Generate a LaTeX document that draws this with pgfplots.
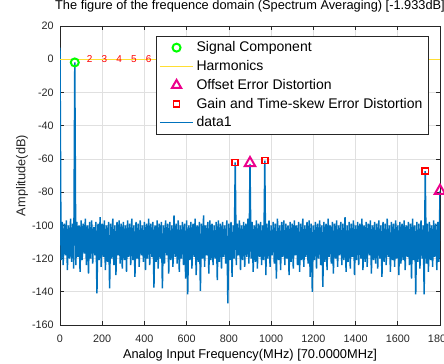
\documentclass[border=0pt]{standalone}
\usepackage{pgfplots}
\pgfplotsset{compat=1.18}
\usepackage{fontspec}
\setmainfont{Liberation Sans}
\usetikzlibrary{calc}
\definecolor{matblue}{rgb}{0,0.447,0.741}
\definecolor{harm}{rgb}{1,0.87,0.2}
\definecolor{axgray}{rgb}{0.15,0.15,0.15}
\definecolor{gridgray}{rgb}{0.88,0.88,0.88}
\begin{document}
\begin{tikzpicture}
\begin{axis}[name=ax, scale only axis, width=285pt, height=224.25pt,
  xmin=0, xmax=1800, ymin=-160, ymax=20,
  xtick={0,200,...,1800}, ytick={-160,-140,...,20},
  grid=major, major grid style={gridgray, line width=0.5pt},
  axis line style={axgray, line width=0.5pt}, tick style={axgray, line width=0.5pt},
  tick align=inside, major tick length=3pt,
  /pgf/number format/assume math mode=true,
  /pgf/number format/1000 sep={},
  ticklabel style={font=\fontsize{8.1}{9}\selectfont, text=axgray},
  xticklabel style={inner sep=0pt, anchor=north, yshift=-7pt},
  yticklabel style={inner sep=0pt, anchor=east, xshift=-4.5pt},
  title={The figure of the frequence domain (Spectrum Averaging) [-1.933dB]},
  title style={font=\fontsize{9.6}{11}\selectfont, at={(axis description cs:0.5,1)}, anchor=center, yshift=9pt},
  xlabel={Analog Input Frequency(MHz) [70.0000MHz]},
  xlabel style={font=\fontsize{9.6}{11}\selectfont, at={(axis description cs:0.5,0)}, anchor=center, yshift=-22.5pt},
  legend style={at={(rel axis cs:0.9685,0.9666)}, anchor=north east, draw=axgray, fill=white,
    font=\fontsize{10.5}{12}\selectfont, row sep=1pt, inner sep=2pt},
  legend cell align=left,
  legend image code/.code={\draw[mark repeat=2,mark phase=2] plot coordinates {(0pt,0pt)(12.5pt,0pt)(25pt,0pt)};},
]
\addplot[color=matblue, line width=1.1pt, forget plot] table[row sep=\\] {
x y\\
0 7\\ 5 -121\\ 10 -98\\ 15 -124\\ 20 -99\\ 25 -118\\ 30 -97\\ 35 -127\\ 40 -100\\ 45 -120\\
50 -96\\ 55 -122\\ 60 -99\\ 65 -126\\ 70 -1.93\\ 75 -124\\ 80 -98\\ 85 -119\\ 90 -100\\ 95 -128\\
100 -97\\ 105 -121\\ 110 -99\\ 115 -117\\ 120 -96\\ 125 -124\\ 130 -100\\ 135 -129\\ 140 -98\\ 145 -120\\
150 -97\\ 155 -123\\ 160 -101\\ 165 -118\\ 170 -98\\ 175 -141\\ 180 -99\\ 185 -121\\ 190 -95\\ 195 -125\\
200 -99\\ 205 -119\\ 210 -97\\ 215 -127\\ 220 -100\\ 225 -122\\ 230 -98\\ 235 -138\\ 240 -99\\ 245 -120\\
250 -96\\ 255 -124\\ 260 -100\\ 265 -130\\ 270 -98\\ 275 -118\\ 280 -97\\ 285 -123\\ 290 -99\\ 295 -126\\
300 -98\\ 305 -121\\ 310 -100\\ 315 -128\\ 320 -97\\ 325 -119\\ 330 -99\\ 335 -124\\ 340 -96\\ 345 -121\\
350 -100\\ 355 -131\\ 360 -98\\ 365 -120\\ 370 -99\\ 375 -125\\ 380 -97\\ 385 -118\\ 390 -100\\ 395 -122\\
400 -98\\ 405 -127\\ 410 -99\\ 415 -120\\ 420 -96\\ 425 -124\\ 430 -99\\ 435 -119\\ 440 -98\\ 445 -137.5\\
450 -100\\ 455 -122\\ 460 -97\\ 465 -126\\ 470 -99\\ 475 -120\\ 480 -98\\ 485 -138\\ 490 -100\\ 495 -123\\
500 -97\\ 505 -118\\ 510 -99\\ 515 -129\\ 520 -98\\ 525 -121\\ 530 -100\\ 535 -125\\ 540 -94\\ 545 -119\\
550 -99\\ 555 -123\\ 560 -97\\ 565 -128\\ 570 -100\\ 575 -120\\ 580 -98\\ 585 -124\\ 590 -99\\ 595 -132\\
600 -97\\ 605 -141.5\\ 610 -100\\ 615 -121\\ 620 -98\\ 625 -126\\ 630 -99\\ 635 -119\\ 640 -96\\ 645 -130\\
650 -100\\ 655 -122\\ 660 -98\\ 665 -139.5\\ 670 -99\\ 675 -120\\ 680 -94\\ 685 -125\\ 690 -100\\ 695 -118\\
700 -98\\ 705 -129\\ 710 -97\\ 715 -121\\ 720 -99\\ 725 -124\\ 730 -100\\ 735 -120\\ 740 -98\\ 745 -133\\
750 -97\\ 755 -122\\ 760 -99\\ 765 -126\\ 770 -98\\ 775 -119\\ 780 -100\\ 785 -123\\ 790 -97\\ 795 -147\\
800 -99\\ 805 -121\\ 810 -98\\ 815 -131\\ 820 -100\\ 825 -120\\ 830 -62.1\\ 835 -124\\ 840 -99\\ 845 -118\\
850 -97\\ 855 -127\\ 860 -100\\ 865 -121\\ 870 -98\\ 875 -125\\ 880 -99\\ 885 -119\\ 890 -96\\ 895 -123\\
900 -63\\ 905 -120\\ 910 -98\\ 915 -128\\ 920 -100\\ 925 -122\\ 930 -97\\ 935 -126\\ 940 -99\\ 945 -119\\
950 -98\\ 955 -124\\ 960 -100\\ 965 -121\\ 970 -61\\ 975 -130\\ 980 -99\\ 985 -120\\ 990 -97\\ 995 -125\\
1000 -100\\ 1005 -118\\ 1010 -98\\ 1015 -123\\ 1020 -99\\ 1025 -132\\ 1030 -96\\ 1035 -121\\ 1040 -100\\ 1045 -127\\
1050 -98\\ 1055 -119\\ 1060 -97\\ 1065 -124\\ 1070 -99\\ 1075 -120\\ 1080 -100\\ 1085 -130\\ 1090 -98\\ 1095 -122\\
1100 -99\\ 1105 -126\\ 1110 -97\\ 1115 -118\\ 1120 -100\\ 1125 -124\\ 1130 -98\\ 1135 -128\\ 1140 -99\\ 1145 -121\\
1150 -96\\ 1155 -125\\ 1160 -100\\ 1165 -119\\ 1170 -98\\ 1175 -123\\ 1180 -97\\ 1185 -131\\ 1190 -99\\ 1195 -140\\
1200 -100\\ 1205 -121\\ 1210 -98\\ 1215 -126\\ 1220 -99\\ 1225 -120\\ 1230 -97\\ 1235 -124\\ 1240 -100\\ 1245 -137\\
1250 -98\\ 1255 -122\\ 1260 -99\\ 1265 -127\\ 1270 -96\\ 1275 -119\\ 1280 -100\\ 1285 -123\\ 1290 -98\\ 1295 -129\\
1300 -99\\ 1305 -120\\ 1310 -97\\ 1315 -125\\ 1320 -100\\ 1325 -118\\ 1330 -98\\ 1335 -124\\ 1340 -99\\ 1345 -121\\
1350 -95\\ 1355 -128\\ 1360 -100\\ 1365 -122\\ 1370 -98\\ 1375 -126\\ 1380 -99\\ 1385 -119\\ 1390 -97\\ 1395 -130\\
1400 -100\\ 1405 -121\\ 1410 -98\\ 1415 -124\\ 1420 -99\\ 1425 -120\\ 1430 -96\\ 1435 -127\\ 1440 -100\\ 1445 -122\\
1450 -98\\ 1455 -125\\ 1460 -99\\ 1465 -118\\ 1470 -97\\ 1475 -129\\ 1480 -100\\ 1485 -121\\ 1490 -98\\ 1495 -123\\
1500 -99\\ 1505 -126\\ 1510 -97\\ 1515 -120\\ 1520 -100\\ 1525 -131\\ 1530 -98\\ 1535 -122\\ 1540 -99\\ 1545 -124\\
1550 -96\\ 1555 -119\\ 1560 -100\\ 1565 -128\\ 1570 -98\\ 1575 -121\\ 1580 -99\\ 1585 -125\\ 1590 -97\\ 1595 -120\\
1600 -100\\ 1605 -130\\ 1610 -98\\ 1615 -123\\ 1620 -99\\ 1625 -121\\ 1630 -97\\ 1635 -127\\ 1640 -100\\ 1645 -119\\
1650 -98\\ 1655 -124\\ 1660 -99\\ 1665 -132\\ 1670 -96\\ 1675 -121\\ 1680 -100\\ 1685 -141.5\\ 1690 -98\\ 1695 -122\\
1700 -99\\ 1705 -126\\ 1710 -97\\ 1715 -120\\ 1720 -100\\ 1725 -141.5\\ 1730 -67.3\\ 1735 -123\\ 1740 -99\\ 1745 -128\\
1750 -98\\ 1755 -121\\ 1760 -100\\ 1765 -125\\ 1770 -97\\ 1775 -119\\ 1780 -99\\ 1785 -127\\ 1790 -98\\ 1795 -122\\
1800 -79.2\\
};
\addplot[color=harm, line width=1pt, forget plot] coordinates {(0,0) (1800,0)};
\addplot[only marks, mark=o, mark size=3pt, color=green, line width=1.5pt, forget plot] coordinates {(70,-1.933)};
\addplot[only marks, mark=triangle, mark size=4.5pt, color=magenta, line width=1.5pt, forget plot] coordinates {(900,-62.5) (1800,-79.2)};
\addplot[only marks, mark=square, mark size=2.3pt, color=red, line width=1.2pt, forget plot] coordinates {(830,-62.1) (970,-61) (1730,-67.3)};
\node[text=red, font=\fontsize{7.5}{8}\selectfont] at (axis cs:140,0) {2};
\node[text=red, font=\fontsize{7.5}{8}\selectfont] at (axis cs:210,0) {3};
\node[text=red, font=\fontsize{7.5}{8}\selectfont] at (axis cs:280,0) {4};
\node[text=red, font=\fontsize{7.5}{8}\selectfont] at (axis cs:350,0) {5};
\node[text=red, font=\fontsize{7.5}{8}\selectfont] at (axis cs:420,0) {6};
\addlegendimage{only marks, mark=o, mark size=3pt, color=green, line width=1.5pt}
\addlegendentry{Signal Component}
\addlegendimage{color=harm, line width=1pt}
\addlegendentry{Harmonics}
\addlegendimage{only marks, mark=triangle, mark size=4pt, color=magenta, line width=1.5pt}
\addlegendentry{Offset Error Distortion}
\addlegendimage{only marks, mark=square, mark size=2.3pt, color=red, line width=1.2pt}
\addlegendentry{Gain and Time-skew Error Distortion}
\addlegendimage{color=matblue, line width=0.7pt}
\addlegendentry{data1}
\end{axis}
\node[rotate=90, font=\fontsize{9.6}{11}\selectfont, text=axgray] at ($(ax.west)+(-28.5pt,0)$) {Amplitude(dB)};
\pgfresetboundingbox
\path[use as bounding box] ($(ax.south west)+(-45pt,-28.5pt)$) rectangle ($(ax.north east)+(3pt,19.5pt)$);
\end{tikzpicture}
\end{document}
